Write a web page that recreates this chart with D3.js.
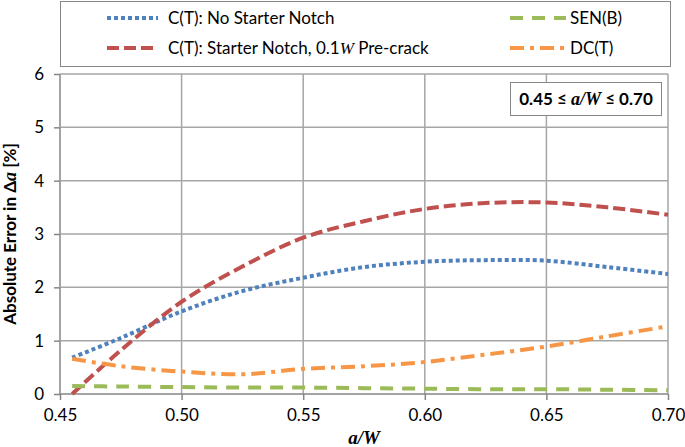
<!DOCTYPE html>
<html><head><meta charset="utf-8">
<script src="https://cdn.jsdelivr.net/npm/d3@7"></script>
<style>
body{margin:0;background:#fff;}
text{font-family:Lato,"Noto Sans",sans-serif;fill:#000;}
</style></head>
<body><svg id="c" width="685" height="447"></svg>
<script>
const aW = [0.455, 0.475, 0.50, 0.525, 0.55, 0.575, 0.60, 0.625, 0.65, 0.675, 0.70];
const ctNoNotch = [0.68, 1.05, 1.55, 1.93, 2.18, 2.38, 2.48, 2.51, 2.50, 2.38, 2.25];
const ctNotch   = [0.00, 0.82, 1.73, 2.39, 2.93, 3.24, 3.47, 3.58, 3.59, 3.50, 3.36];
const senB      = [0.15, 0.14, 0.13, 0.12, 0.12, 0.11, 0.10, 0.09, 0.09, 0.08, 0.07];
const dcT       = [0.66, 0.52, 0.42, 0.37, 0.47, 0.52, 0.60, 0.74, 0.89, 1.08, 1.27];
const xTicks = [0.45, 0.50, 0.55, 0.60, 0.65, 0.70];
const yTicks = [0, 1, 2, 3, 4, 5, 6];

const series = [
  {name:"C(T): No Starter Notch", vals:ctNoNotch, color:"#4f81bd", dash:"4,3"},
  {name:"C(T): Starter Notch, 0.1W Pre-crack", vals:ctNotch, color:"#c0504d", dash:"12,5"},
  {name:"SEN(B)", vals:senB, color:"#9bbb59", dash:"13,9"},
  {name:"DC(T)", vals:dcT, color:"#f79646", dash:"14,6,4,6"}
];

const svg = d3.select("#c");
const L=60, R=668, T=74, B=394;
const x = d3.scaleLinear().domain([0.45,0.70]).range([L,R]);
const y = d3.scaleLinear().domain([0,6]).range([B,T]);

// gridlines
const g = svg.append("g");
g.selectAll(".vg").data(xTicks).join("line")
  .attr("x1",d=>x(d)).attr("x2",d=>x(d)).attr("y1",T).attr("y2",B)
  .attr("stroke",d=>d===0.45?"#868686":"#a6a6a6").attr("stroke-width",1.5);
g.selectAll(".hg").data(yTicks).join("line")
  .attr("x1",L).attr("x2",R).attr("y1",d=>y(d)).attr("y2",d=>y(d))
  .attr("stroke",d=>d===0?"#868686":"#a6a6a6").attr("stroke-width",1.5);

// axes
const xa = svg.append("g").attr("transform",`translate(0,${B})`)
  .call(d3.axisBottom(x).tickValues(xTicks).tickFormat(d3.format(".2f")).tickSizeOuter(0).tickSize(6).tickPadding(9));
const ya = svg.append("g").attr("transform",`translate(${L},0)`)
  .call(d3.axisLeft(y).tickValues(yTicks).tickFormat(d3.format("d")).tickSizeOuter(0).tickSize(6).tickPadding(10));
[xa,ya].forEach(a=>{
  a.select(".domain").remove();
  a.selectAll(".tick line").attr("stroke","#868686").attr("stroke-width",1.5);
  a.selectAll(".tick text").style("font-size","17px").style("font-family","Lato,sans-serif").attr("fill","#000");
});

// lines
const line = d3.line().x((d,i)=>x(aW[i])).y(d=>y(d)).curve(d3.curveCatmullRom.alpha(0.5));
svg.append("g").selectAll("path").data(series).join("path")
  .attr("d",d=>line(d.vals)).attr("fill","none")
  .attr("stroke",d=>d.color).attr("stroke-width",4).attr("stroke-dasharray",d=>d.dash);

// legend
const lg = svg.append("g");
lg.append("rect").attr("x",60.5).attr("y",1.5).attr("width",610).attr("height",65)
  .attr("fill","#fff").attr("stroke","#868686").attr("stroke-width",1);
const legPos = [[107,18],[107,48],[510,18],[510,48]];
const legLen = [51,51,56,56];
series.forEach((s,i)=>{
  const [lx,ly]=legPos[i];
  lg.append("line").attr("x1",lx).attr("x2",lx+legLen[i]).attr("y1",ly).attr("y2",ly)
    .attr("stroke",s.color).attr("stroke-width",4).attr("stroke-dasharray",s.dash);
  const t = lg.append("text").attr("x",lx+legLen[i]+(i<2?10:4)).attr("y",ly).attr("dy","0.35em").style("font-size","17px");
  if(i===1){
    t.append("tspan").text("C(T): Starter Notch, 0.1");
    t.append("tspan").text("W").style("font-family","'Liberation Serif',serif").style("font-style","italic");
    t.append("tspan").text(" Pre-crack");
  } else t.text(s.name);
});

// annotation box
svg.append("rect").attr("x",510.5).attr("y",82.5).attr("width",151).attr("height",33)
  .attr("fill","#fff").attr("stroke","#868686").attr("stroke-width",1);
const at = svg.append("text").attr("x",586).attr("y",99).attr("dy","0.35em").attr("text-anchor","middle")
  .style("font-size","17px").style("font-weight","bold");
at.append("tspan").text("0.45 ≤ ");
at.append("tspan").text("a/W").style("font-family","'Liberation Serif',serif").style("font-style","italic").style("font-size","18px");
at.append("tspan").text(" ≤ 0.70");

// axis titles
const xt = svg.append("text").attr("x",(L+R)/2).attr("y",437).attr("dy","0.35em").attr("text-anchor","middle")
  .style("font-family","'Liberation Serif',serif").style("font-style","italic").style("font-weight","bold").style("font-size","19px")
  .text("a/W");
const yt = svg.append("text").attr("transform",`translate(10,${(T+B)/2}) rotate(-90)`).attr("dy","0.35em").attr("text-anchor","middle")
  .style("font-size","17px").style("font-weight","bold");
yt.append("tspan").text("Absolute Error in Δ");
yt.append("tspan").text("a").style("font-family","'Liberation Serif',serif").style("font-style","italic").style("font-size","18px");
yt.append("tspan").text(" [%]");
</script></body></html>
